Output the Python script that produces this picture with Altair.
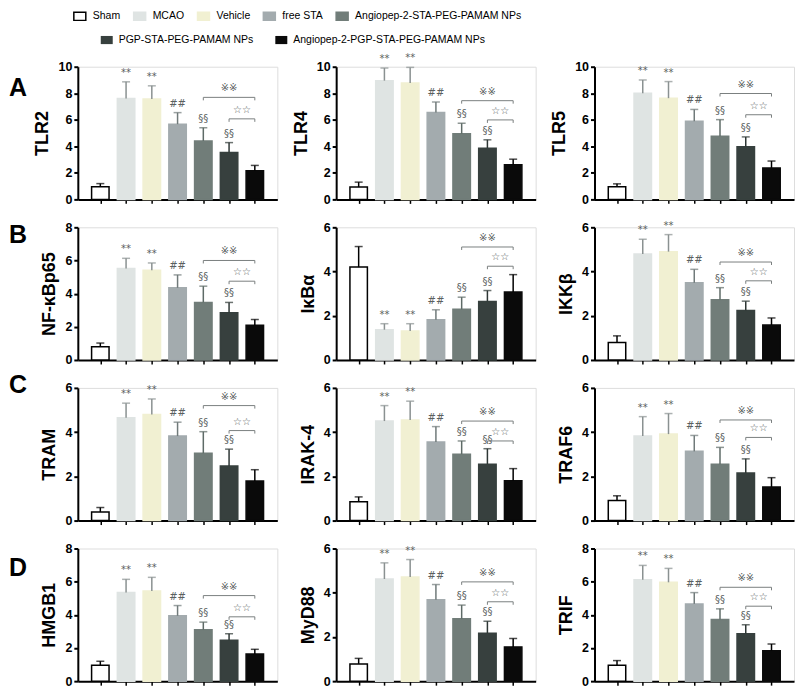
import altair as alt
import pandas as pd

GROUPS = ["Sham", "MCAO", "Vehicle", "free STA",
          "Angiopep-2-STA-PEG-PAMAM NPs", "PGP-STA-PEG-PAMAM NPs",
          "Angiopep-2-PGP-STA-PEG-PAMAM NPs"]
ROW1 = GROUPS[:5]
ROW2 = GROUPS[5:]

FILLS = ["#ffffff", "#dfe4e3", "#f1f0d2", "#a3abae", "#717d79", "#37403e", "#0a0a0a"]
STROKES = ["#000000", "#dfe4e3", "#f1f0d2", "#a3abae", "#717d79", "#37403e", "#0a0a0a"]
ERR_COLORS = ["#000000", "#8a9191", "#8a9191", "#707a7a", "#5e6b67", "#2e3735", "#000000"]
SIG = ["", "**", "**", "##", "§§", "§§", ""]

PANEL_NAMES = ["TLR2", "TLR4", "TLR5", "NF-κBp65", "IκBα", "IKKβ",
               "TRAM", "IRAK-4", "TRAF6", "HMGB1", "MyD88", "TRIF"]
PANEL_YMAX = [10, 10, 10, 8, 6, 6, 6, 6, 6, 8, 6, 8]
ROW_LETTERS = ["A", "B", "C", "D"]

TLR2 = [0.95, 7.61, 7.56, 5.67, 4.40, 3.53, 2.16]
TLR2_SD = [0.24, 1.25, 1.00, 0.87, 1.00, 0.75, 0.40]
TLR4 = [0.93, 8.95, 8.77, 6.54, 4.94, 3.86, 2.61]
TLR4_SD = [0.37, 0.95, 1.18, 0.80, 0.80, 0.63, 0.42]
TLR5 = [0.95, 8.00, 7.63, 5.89, 4.76, 3.97, 2.37]
TLR5_SD = [0.22, 1.00, 1.25, 0.89, 1.25, 0.74, 0.52]
NFKB = [0.80, 5.51, 5.41, 4.35, 3.47, 2.85, 2.10]
NFKB_SD = [0.22, 0.62, 0.44, 0.78, 0.98, 0.62, 0.34]
IKBA = [4.20, 1.37, 1.31, 1.82, 2.29, 2.65, 3.07]
IKBA_SD = [0.93, 0.27, 0.33, 0.45, 0.55, 0.49, 0.79]
IKKB = [0.79, 4.79, 4.90, 3.49, 2.72, 2.24, 1.58]
IKKB_SD = [0.30, 0.67, 0.77, 0.61, 0.55, 0.42, 0.32]
TRAM = [0.39, 4.65, 4.80, 3.82, 3.04, 2.47, 1.79]
TRAM_SD = [0.20, 0.66, 0.70, 0.63, 0.98, 0.76, 0.51]
IRAK4 = [0.85, 4.50, 4.55, 3.55, 3.00, 2.55, 1.80]
IRAK4_SD = [0.22, 0.70, 0.85, 0.70, 0.60, 0.70, 0.55]
TRAF6 = [0.91, 3.82, 3.91, 3.13, 2.55, 2.15, 1.52]
TRAF6_SD = [0.21, 0.88, 0.93, 0.72, 0.76, 0.64, 0.42]
HMGB1 = [0.96, 5.34, 5.44, 3.94, 3.10, 2.46, 1.64]
HMGB1_SD = [0.24, 0.80, 0.82, 0.62, 0.46, 0.40, 0.28]
MYD88 = [0.78, 4.62, 4.71, 3.68, 2.82, 2.17, 1.55]
MYD88_SD = [0.25, 0.73, 0.79, 0.69, 0.62, 0.54, 0.38]
TRIF = [0.96, 6.12, 5.96, 4.66, 3.72, 2.86, 1.84]
TRIF_SD = [0.28, 0.86, 0.84, 0.68, 0.64, 0.54, 0.40]

# y-levels (data units) of the two comparison brackets in each panel
BRACKET_XX = [7.69, 7.44, 7.98, 6.00, 5.11, 4.43, 5.20, 4.50, 4.55, 5.16, 4.49, 5.66]
BRACKET_ST = [6.07, 5.99, 6.38, 4.75, 4.24, 3.58, 4.07, 3.60, 3.76, 3.88, 3.59, 4.52]

MEANS = [TLR2, TLR4, TLR5, NFKB, IKBA, IKKB, TRAM, IRAK4, TRAF6, HMGB1, MYD88, TRIF]
SDS = [TLR2_SD, TLR4_SD, TLR5_SD, NFKB_SD, IKBA_SD, IKKB_SD, TRAM_SD, IRAK4_SD,
       TRAF6_SD, HMGB1_SD, MYD88_SD, TRIF_SD]

W, H = 200, 133
FONT = "Liberation Sans"
LEG_FONT = "Liberation Sans"
RECT_PATH = "M-1,-0.68H1V0.68H-1Z"
LETTER_Y = {"A": 21, "B": 8, "C": -3, "D": 20}


def panel(i, letter=None, with_legend2=False):
    name = PANEL_NAMES[i]
    ymax = PANEL_YMAX[i]
    df = pd.DataFrame({
        "idx": list(range(7)), "group": GROUPS, "mean": MEANS[i], "sd": SDS[i],
        "sig": SIG, "ecol": ERR_COLORS,
    })
    df["top"] = df["mean"] + df["sd"]

    xs = alt.Scale(domain=[-0.68, 6.68], nice=False, zero=False)
    ys = alt.Scale(domain=[0, ymax], nice=False, zero=True)
    x_axis = alt.Axis(values=list(range(7)), labels=False, title=None, grid=False,
                      domainColor="black", domainWidth=2, tickColor="black",
                      tickWidth=1.5, tickSize=4)
    y_axis = alt.Axis(values=list(range(0, ymax + 1, 2)), title=name, grid=False,
                      labelFont=FONT, labelFontWeight="bold", labelFontSize=12.5,
                      labelColor="black", titleFont=FONT, titleFontWeight="bold",
                      titleFontSize=18, titleColor="black", domainColor="black",
                      domainWidth=2, tickColor="black", tickWidth=2, tickSize=4,
                      labelPadding=2, titlePadding=6)

    def X(field="idx"):
        return alt.X(f"{field}:Q", scale=xs, axis=x_axis, title=None)

    def Y(field):
        return alt.Y(f"{field}:Q", scale=ys, axis=y_axis, title=name)

    leg1 = alt.Legend(values=ROW1, orient="none", legendX=-5, legendY=-58,
                      direction="horizontal", title=None, symbolType=RECT_PATH,
                      symbolSize=144, symbolStrokeWidth=1.5, labelFont=LEG_FONT,
                      labelFontSize=10.5, labelColor="black", labelOffset=6,
                      labelLimit=400, columnPadding=10, padding=0)
    base = alt.Chart(df)
    bars = base.mark_bar(width=17.5, strokeWidth=1.5).encode(
        x=X(), y=Y("mean"),
        fill=alt.Fill("group:N", scale=alt.Scale(domain=GROUPS, range=FILLS), legend=leg1),
        stroke=alt.Stroke("group:N", scale=alt.Scale(domain=GROUPS, range=STROKES), legend=leg1),
    )
    layers = [bars]
    for c in sorted(set(ERR_COLORS)):
        sub = base.transform_filter(alt.datum.ecol == c)
        layers.append(sub.mark_rule(color=c, strokeWidth=1.5).encode(
            x=X(), y=Y("mean"), y2="top:Q"))
        layers.append(sub.mark_tick(color=c, thickness=1.5, size=8, orient="horizontal").encode(
            x=X(), y=Y("top")))
    layers.append(base.transform_filter(alt.datum.sig != "").mark_text(
        fontSize=10, color="#5a6060", dy=-9, font="DejaVu Sans").encode(
        x=X(), y=Y("top"), text="sig:N"))

    tick = 3.0 * ymax / H
    bxx, bst = BRACKET_XX[i], BRACKET_ST[i]
    br = pd.DataFrame({
        "idx": [4, 4, 6, 6, 5, 5, 6, 6],
        "by": [bxx - tick, bxx, bxx, bxx - tick, bst - tick, bst, bst, bst - tick],
        "ord": [0, 1, 2, 3, 0, 1, 2, 3],
        "bk": ["xx"] * 4 + ["st"] * 4,
    })
    layers.append(alt.Chart(br).mark_line(color="#7a7f7f", strokeWidth=1).encode(
        x=X(), y=Y("by"), order="ord:Q", detail="bk:N"))
    bt = pd.DataFrame({"idx": [5.0, 5.5], "by": [bxx, bst], "t": ["※※", "☆☆"]})
    layers.append(alt.Chart(bt).mark_text(fontSize=10, color="#555b5b", dy=-9,
                                          font="DejaVu Sans").encode(
        x=X(), y=Y("by"), text="t:N"))

    if letter is not None:
        layers.append(alt.Chart(pd.DataFrame({"L": [letter]})).mark_text(
            fontSize=25, fontWeight="bold", font=FONT, align="left",
            baseline="middle", color="black").encode(
            text="L:N", x=alt.value(-69), y=alt.value(LETTER_Y[letter])))

    if with_legend2:
        leg2 = alt.Legend(orient="none", legendX=23, legendY=-33, direction="horizontal",
                          title=None, symbolType=RECT_PATH, symbolSize=144,
                          symbolStrokeWidth=0, labelFont=LEG_FONT, labelFontSize=10.5,
                          labelColor="black", labelOffset=6, labelLimit=400,
                          columnPadding=22, padding=0)
        ldf = pd.DataFrame({"g2": ROW2, "idx": [0, 0], "z": [0, 0]})
        layers.append(alt.Chart(ldf).mark_square(size=0, opacity=1).encode(
            x=X(), y=Y("z"),
            color=alt.Color("g2:N", scale=alt.Scale(domain=ROW2, range=FILLS[5:]),
                            legend=leg2)))

    return alt.layer(*layers).properties(width=W, height=H)


panels = []
for k in range(12):
    r, c = divmod(k, 3)
    panels.append(panel(k, letter=ROW_LETTERS[r] if c == 0 else None,
                        with_legend2=(k == 0)))

chart = alt.concat(*panels, columns=3, spacing={"row": 28, "column": 59},
                   bounds="flush").properties(
    padding=0
).configure_view(stroke=None).configure(font=FONT)

chart.save("out.html", embed_options={"renderer": "svg", "actions": False})
